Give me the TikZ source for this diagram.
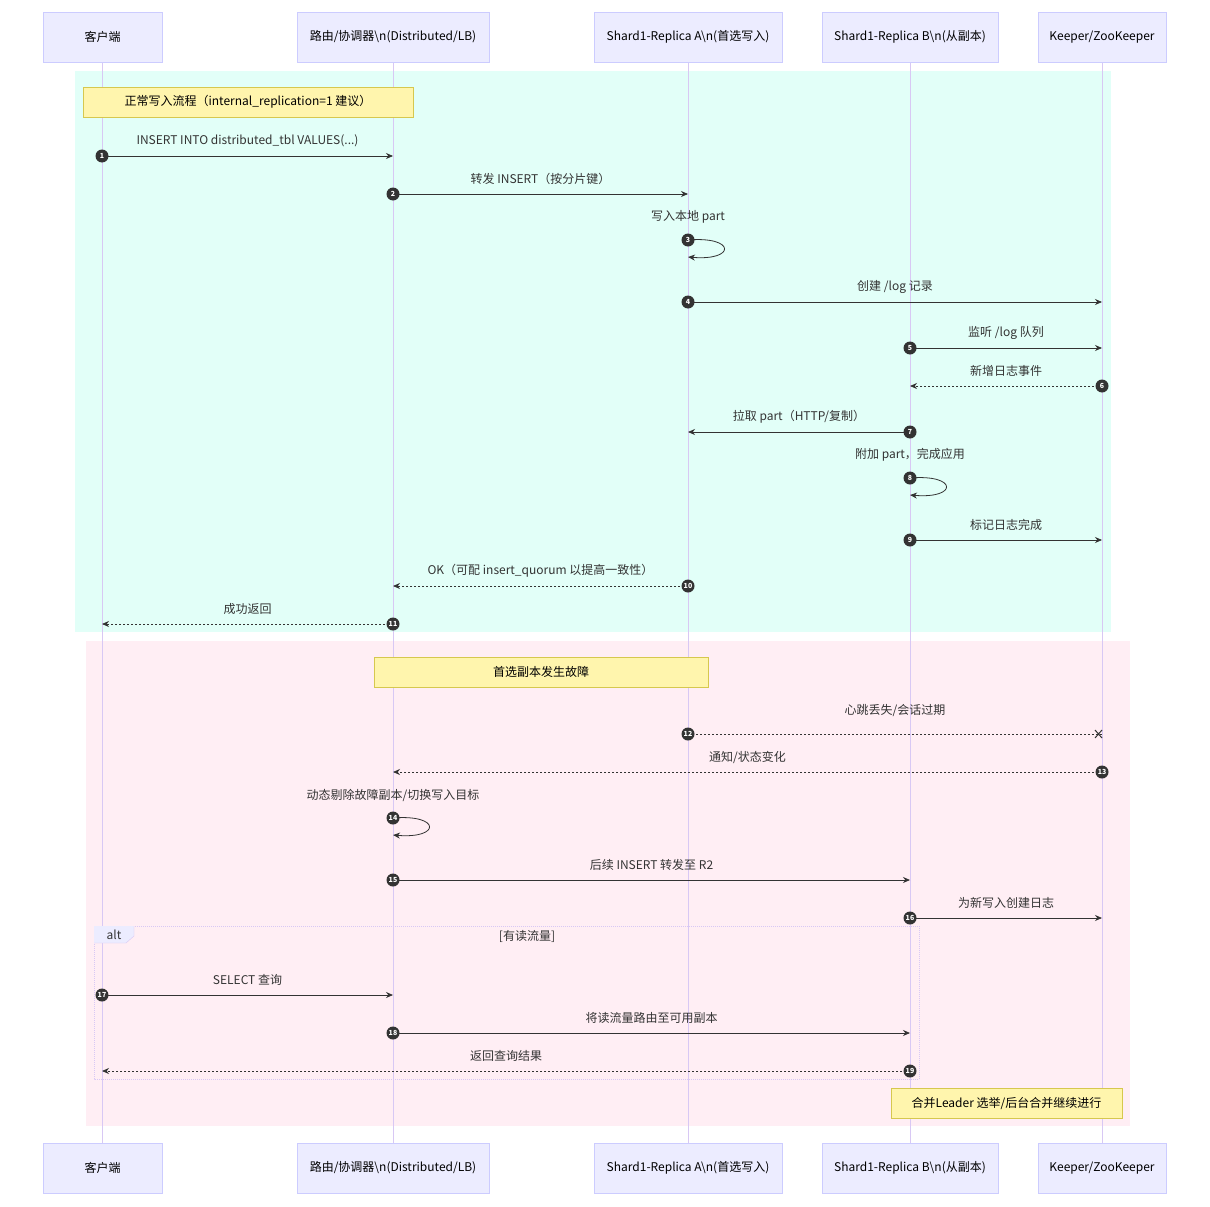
\documentclass[tikz,border=0pt]{standalone}
\usepackage{fontspec}
\setmainfont{Noto Sans CJK SC}
\usetikzlibrary{arrows.meta}
\definecolor{actfill}{HTML}{ECECFF}
\definecolor{actdraw}{HTML}{CCCCFF}
\definecolor{life}{HTML}{D8C8F4}
\definecolor{bgA}{HTML}{E2FFF8}
\definecolor{bgB}{HTML}{FFEEF4}
\definecolor{notefill}{HTML}{FFF5AD}
\definecolor{notedraw}{HTML}{D6C84E}
\definecolor{ln}{HTML}{333333}
\tikzset{
 x=1pt,y=-1pt,
 actor/.style={draw=actdraw,fill=actfill,minimum height=50pt,font=\fontsize{12}{14}\selectfont,inner sep=2pt},
 note/.style={draw=notedraw,fill=notefill,minimum height=30pt,font=\fontsize{12}{14}\selectfont},
 msg/.style={draw=ln,line width=0.8pt,-{Stealth[length=7pt,width=6pt]}},
 dmsg/.style={msg,dash pattern=on 2pt off 2pt},
 num/.style={circle,fill=ln,text=white,inner sep=0pt,minimum size=13pt,font=\bfseries\fontsize{7}{8}\selectfont},
 lbl/.style={font=\fontsize{12}{14}\selectfont,text=ln},
}
\newcommand{\msgA}[5]{%
 \coordinate (s#4) at (#2,#1); \coordinate (e#4) at (#3,#1);
 \draw[msg] (s#4) -- (e#4);
 \node[num] (n#4) at (s#4) {#4};
 \node[lbl] (l#4) at ({(#2+#3)/2},#1-15) {#5};}
\newcommand{\msgD}[5]{%
 \coordinate (s#4) at (#2,#1); \coordinate (e#4) at (#3,#1);
 \draw[dmsg] (s#4) -- (e#4);
 \node[num] (n#4) at (s#4) {#4};
 \node[lbl] (l#4) at ({(#2+#3)/2},#1-15) {#5};}
\newcommand{\selfm}[4]{%
 \coordinate (s#3) at (#1,#2); \coordinate (e#3) at (#1,#2+17);
 \draw[msg] (s#3) .. controls (#1+48,#2-4) and (#1+48,#2+21) .. (e#3);
 \node[num] (n#3) at (s#3) {#3};
 \node[lbl] (l#3) at (#1,#2-23) {#4};}
\newcommand{\actors}[2]{%
 \node[actor,minimum width=119pt] (#1a) at (102.5,#2) {客户端};
 \node[actor,minimum width=192pt] (#1b) at (393,#2) {路由/协调器\textbackslash n(Distributed/LB)};
 \node[actor,minimum width=188pt] (#1c) at (688,#2) {Shard1-Replica A\textbackslash n(首选写入)};
 \node[actor,minimum width=176pt] (#1d) at (910,#2) {Shard1-Replica B\textbackslash n(从副本)};
 \node[actor,minimum width=128pt] (#1e) at (1102,#2) {Keeper/ZooKeeper};}
\begin{document}
\begin{tikzpicture}
\useasboundingbox[fill=white] (0,0) rectangle (1210,1207);
\fill[bgA] (75,71) rectangle (1111,632);
\fill[bgB] (86,641) rectangle (1130,1126);
\foreach \x in {102,393,688,910,1102}{
 \draw[life,line width=1pt] (\x,62) -- (\x,1143);}
\actors{top}{37}
\actors{bot}{1168}
\node[note,minimum width=330pt] (note1) at (248,102) {正常写入流程（internal\_replication=1 建议）};
\node[note,minimum width=334pt] (note2) at (541,672) {首选副本发生故障};
\node[note,minimum width=231pt] (note3) at (1006.5,1103) {合并Leader 选举/后台合并继续进行};
\draw[life,dash pattern=on 1pt off 1pt] (94,926) rectangle (919,1079);
\fill[actfill] (94,926) -- (134,926) -- (134,936) -- (126,943) -- (94,943) -- cycle;
\draw[life] (134,926) -- (134,936) -- (126,943) -- (94,943);
\node[lbl] (alt) at (114,935) {alt};
\node[lbl] (cond) at (527,936) {[有读流量]};
\msgA{156}{102}{393}{1}{INSERT INTO distributed\_tbl VALUES(...)}
\msgA{194}{393}{688}{2}{转发 INSERT（按分片键）}
\selfm{688}{240}{3}{写入本地 part}
\msgA{302}{688}{1102}{4}{创建 /log 记录}
\msgA{348}{910}{1102}{5}{监听 /log 队列}
\msgD{386}{1102}{910}{6}{新增日志事件}
\msgA{432}{910}{688}{7}{拉取 part（HTTP/复制）}
\selfm{910}{478}{8}{附加 part，完成应用}
\msgA{540}{910}{1102}{9}{标记日志完成}
\msgD{586}{688}{393}{10}{OK（可配 insert\_quorum 以提高一致性）}
\msgD{624}{393}{102}{11}{成功返回}
\coordinate (s12) at (688,734); \coordinate (e12) at (1102,734);
\draw[draw=ln,line width=0.8pt,dash pattern=on 2pt off 2pt] (s12) -- (e12);
\draw[ln,line width=1pt] (1095,730) -- (1102,738) (1095,738) -- (1102,730);
\node[num] (n12) at (s12) {12};
\node[lbl] (l12) at (895,711) {心跳丢失/会话过期};
\msgD{772}{1102}{393}{13}{通知/状态变化}
\selfm{393}{818}{14}{动态剔除故障副本/切换写入目标}
\msgA{880}{393}{910}{15}{后续 INSERT 转发至 R2}
\msgA{918}{910}{1102}{16}{为新写入创建日志}
\msgA{995}{102}{393}{17}{SELECT 查询}
\msgA{1033}{393}{910}{18}{将读流量路由至可用副本}
\msgD{1071}{910}{102}{19}{返回查询结果}
\end{tikzpicture}
\end{document}
